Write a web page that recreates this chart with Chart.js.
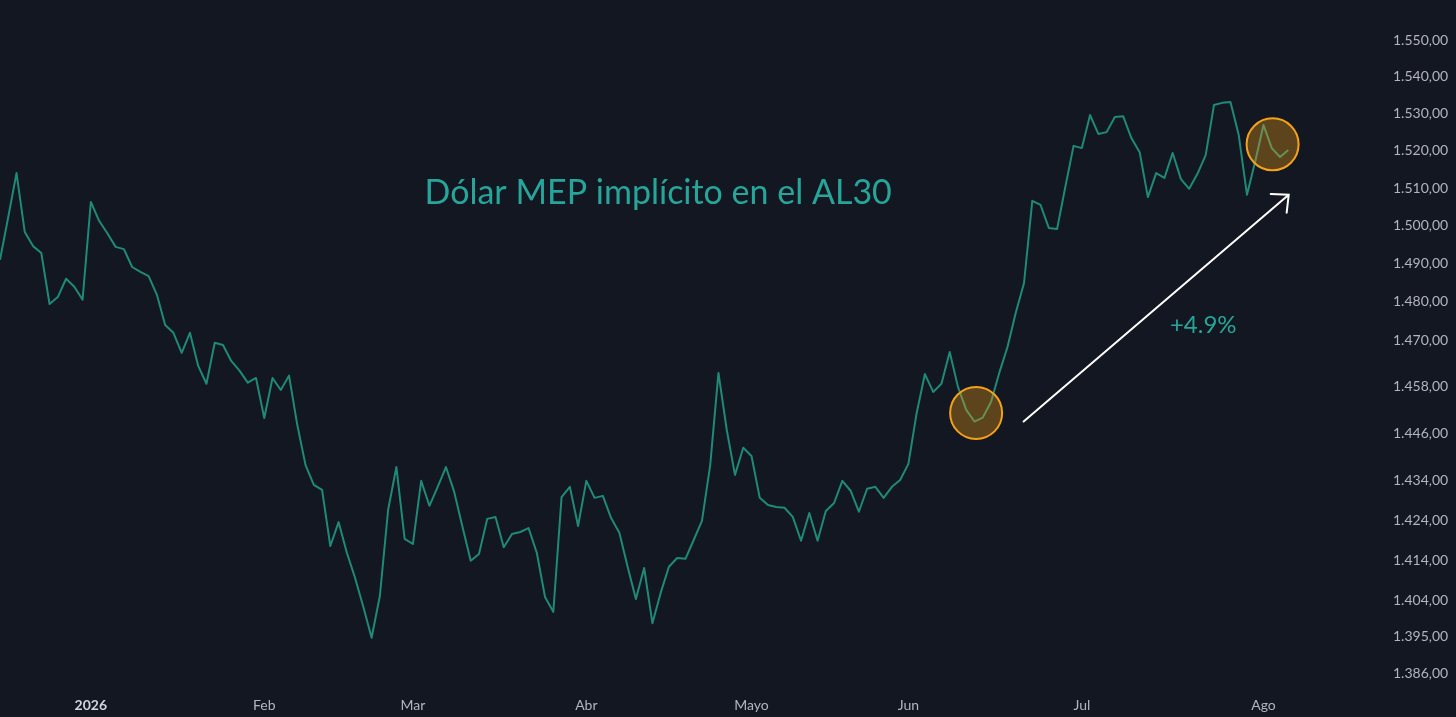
<!DOCTYPE html>
<html>
<head>
<meta charset="utf-8">
<script src="https://cdn.jsdelivr.net/npm/chart.js@4.4.1/dist/chart.umd.min.js"></script>
<style>
  html, body { margin: 0; padding: 0; background: #131722; }
  #wrap { width: 1456px; height: 717px; position: relative; }
</style>
</head>
<body>
<div id="wrap"><canvas id="chart"></canvas></div>
<script>
// Dólar MEP implícito en el AL30, one close per trading day (last bars of Dec 2025 to early Aug 2026)
const mepValues = [
    1491.0, 1502.3, 1514.0, 1498.3, 1494.6, 1492.8, 1479.4, 1481.2, 1486.0, 1483.9,
    1480.5, 1506.3, 1501.3, 1498.0, 1494.4, 1493.8, 1489.1, 1487.8, 1486.7, 1481.8,
    1473.9, 1471.9, 1466.7, 1471.9, 1463.3, 1458.7, 1469.3, 1468.7, 1464.6, 1462.1,
    1459.0, 1460.2, 1449.9, 1460.2, 1457.1, 1460.8, 1448.1, 1437.9, 1432.9, 1431.6,
    1417.5, 1423.5, 1415.8, 1409.5, 1402.3, 1394.7, 1405.1, 1426.6, 1437.4, 1419.3,
    1418.0, 1433.9, 1427.6, 1432.4, 1437.4, 1431.1, 1422.3, 1413.8, 1415.5, 1424.3,
    1424.8, 1417.2, 1420.5, 1421.0, 1422.0, 1415.8, 1404.8, 1401.1, 1429.8, 1432.4,
    1422.5, 1433.9, 1429.6, 1430.1, 1424.5, 1420.8, 1412.3, 1404.3, 1412.0, 1398.3,
    1405.8, 1412.3, 1414.5, 1414.3, 1419.0, 1423.8, 1437.9, 1461.5, 1446.9, 1435.4,
    1442.3, 1440.2, 1429.6, 1427.8, 1427.3, 1427.1, 1424.8, 1418.8, 1425.8, 1418.8,
    1426.3, 1428.3, 1433.9, 1431.4, 1426.1, 1431.9, 1432.4, 1429.6, 1432.4, 1434.1,
    1438.2, 1451.2, 1461.2, 1456.6, 1458.7, 1466.9, 1457.9, 1452.0, 1449.0, 1450.0,
    1454.0, 1461.5, 1468.2, 1477.1, 1484.9, 1506.6, 1505.5, 1499.4, 1499.1, 1510.3,
    1521.3, 1520.7, 1529.6, 1524.5, 1525.0, 1529.1, 1529.3, 1523.4, 1519.6, 1507.6,
    1514.0, 1512.7, 1519.4, 1512.4, 1509.8, 1513.8, 1518.8, 1532.3, 1532.9, 1533.1,
    1524.2, 1508.2, 1517.2, 1526.9, 1520.7, 1518.3, 1520.2
];

// first bar of each month (bar index) and its label
const monthTickIdx = [11, 32, 50, 71, 91, 110, 131, 153];
const monthTickLabels = ['2026', 'Feb', 'Mar', 'Abr', 'Mayo', 'Jun', 'Jul', 'Ago'];

// price scale labels
const priceTicks = [1386, 1395, 1404, 1414, 1424, 1434, 1446, 1458, 1470, 1480,
                    1490, 1500, 1510, 1520, 1530, 1540, 1550];

// annotations, in bar index / price coordinates
const circleMarks = [{ x: 118.2, y: 1451.2 }, { x: 154.1, y: 1521.7 }];
const arrowMark = { from: { x: 123.95, y: 1449.0 }, to: { x: 156.05, y: 1508.2 } };
const changeLabel = { x: 145.7, y: 1473.9, text: '+4.9%' };
const titleLabel = { x: 79.7, y: 1508.6, text: 'Dólar MEP implícito en el AL30' };

const TEAL = '#26a69a';
const LINE = '#1f8a78';

function formatPrice(v) {
    let miles = Math.floor(v / 1000);
    let rest = String(Math.round(v % 1000)).padStart(3, '0');
    return miles + '.' + rest + ',00';
}

const annotations = {
    id: 'annotations',
    afterDatasetsDraw(chart) {
        const { ctx, scales: { x, y } } = chart;
        ctx.save();

        // orange circles
        circleMarks.forEach(c => {
            ctx.beginPath();
            ctx.arc(x.getPixelForValue(c.x), y.getPixelForValue(c.y), 26, 0, Math.PI * 2);
            ctx.fillStyle = 'rgba(245, 160, 20, 0.33)';
            ctx.fill();
            ctx.lineWidth = 2;
            ctx.strokeStyle = '#f5a21b';
            ctx.stroke();
        });

        // white arrow
        let x1 = x.getPixelForValue(arrowMark.from.x), y1 = y.getPixelForValue(arrowMark.from.y);
        let x2 = x.getPixelForValue(arrowMark.to.x), y2 = y.getPixelForValue(arrowMark.to.y);
        let ang = Math.atan2(y2 - y1, x2 - x1);
        ctx.strokeStyle = '#ffffff';
        ctx.lineWidth = 2;
        ctx.lineCap = 'round';
        ctx.beginPath();
        ctx.moveTo(x1, y1);
        ctx.lineTo(x2, y2);
        ctx.moveTo(x2 + 18 * Math.cos(ang + Math.PI - 0.75), y2 + 18 * Math.sin(ang + Math.PI - 0.75));
        ctx.lineTo(x2, y2);
        ctx.lineTo(x2 + 18 * Math.cos(ang + Math.PI + 0.75), y2 + 18 * Math.sin(ang + Math.PI + 0.75));
        ctx.stroke();

        // texts
        ctx.fillStyle = TEAL;
        ctx.textAlign = 'center';
        ctx.textBaseline = 'middle';
        ctx.font = '24px Lato';
        ctx.fillText(changeLabel.text, x.getPixelForValue(changeLabel.x), y.getPixelForValue(changeLabel.y));
        ctx.font = '34px Lato';
        ctx.fillText(titleLabel.text, x.getPixelForValue(titleLabel.x), y.getPixelForValue(titleLabel.y));

        ctx.restore();
    }
};

new Chart(document.getElementById('chart'), {
    type: 'line',
    data: {
        datasets: [{
            data: mepValues.map((v, i) => ({ x: i, y: v })),
            borderColor: LINE,
            borderWidth: 2,
            pointRadius: 0,
            tension: 0,
            borderJoinStyle: 'round',
        }],
    },
    options: {
        responsive: true,
        maintainAspectRatio: false,
        animation: false,
        events: [],
        layout: { padding: 0, autoPadding: false },
        plugins: {
            legend: { display: false },
            tooltip: { enabled: false },
        },
        scales: {
            x: {
                type: 'linear',
                bounds: 'data',
                min: 0,
                max: 166.5,
                grid: { display: false, drawTicks: false },
                border: { display: false },
                afterBuildTicks: scale => { scale.ticks = monthTickIdx.map(v => ({ value: v })); },
                afterFit: scale => {
                    scale.height = 27;
                    scale.paddingLeft = 0;
                    scale.paddingRight = 0;
                },
                ticks: {
                    autoSkip: false,
                    maxRotation: 0,
                    padding: 7,
                    color: ctx => ctx.index === 0 ? '#d1d4dc' : '#b2b5be',
                    font: ctx => ({ family: 'Lato', size: 14, weight: ctx.index === 0 ? 'bold' : 'normal' }),
                    callback: v => monthTickLabels[monthTickIdx.indexOf(v)],
                },
            },
            y: {
                type: 'logarithmic',
                bounds: 'data',
                position: 'right',
                min: 1381.9,
                max: 1561.0,
                grid: { display: false, drawTicks: false },
                border: { display: false },
                afterBuildTicks: scale => { scale.ticks = priceTicks.map(v => ({ value: v })); },
                afterFit: scale => {
                    scale.width = 81;
                    scale.paddingTop = 0;
                    scale.paddingBottom = 0;
                },
                ticks: {
                    autoSkip: false,
                    padding: 18,
                    color: '#b2b5be',
                    font: { family: 'Lato', size: 14 },
                    callback: v => formatPrice(v),
                },
            },
        },
    },
    plugins: [annotations],
});
</script>
</body>
</html>
